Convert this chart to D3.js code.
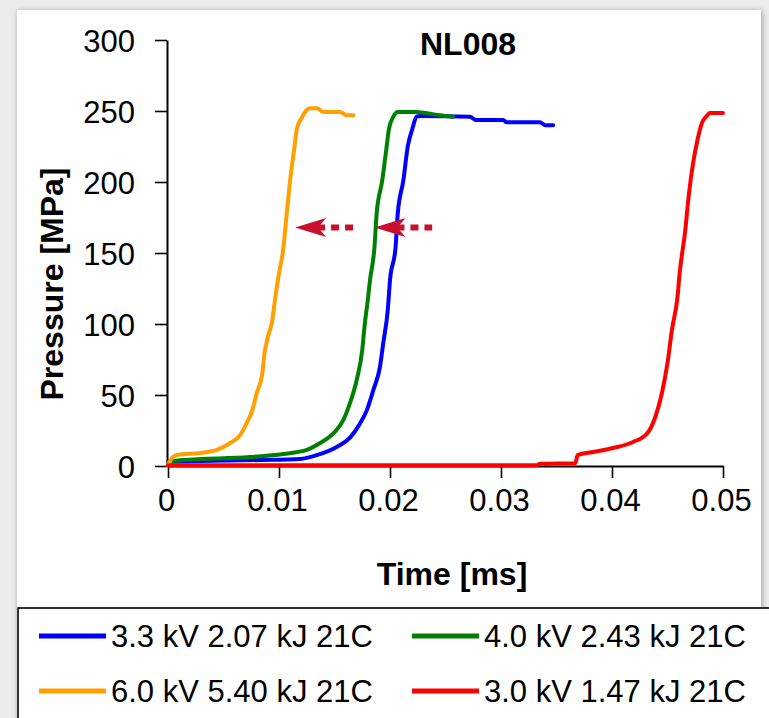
<!DOCTYPE html>
<html>
<head>
<meta charset="utf-8">
<script src="https://cdn.jsdelivr.net/npm/d3@7"></script>
<style>
  html, body { margin: 0; padding: 0; background: #ececec; }
  svg { display: block; }
  text { font-family: "Liberation Sans", Arial, sans-serif; fill: #000; }
</style>
</head>
<body>
<svg id="chart" width="769" height="718"></svg>
<script>
// ---------------- data ----------------
const chartTitle = "NL008";
const xAxisTitle = "Time [ms]";
const yAxisTitle = "Pressure [MPa]";
const xTicks = [0, 0.01, 0.02, 0.03, 0.04, 0.05];
const xTickLabels = ["0", "0.01", "0.02", "0.03", "0.04", "0.05"];
const yTicks = [0, 50, 100, 150, 200, 250, 300];
const yTickLabels = ["0", "50", "100", "150", "200", "250", "300"];

const seriesNames = ["3.3 kV 2.07 kJ 21C", "4.0 kV 2.43 kJ 21C", "6.0 kV 5.40 kJ 21C", "3.0 kV 1.47 kJ 21C"];
const seriesColors = ["#0000ff", "#008000", "#ffa000", "#ff0000"];

// time [ms]
const blueT = [0, 0.0029, 0.0083, 0.0119, 0.0134, 0.0152, 0.0164, 0.0173, 0.0179, 0.0185, 0.0191, 0.0194, 0.0198, 0.0200, 0.0205, 0.0207, 0.0212, 0.0216, 0.0220, 0.0224, 0.0227, 0.0272, 0.0277, 0.0302, 0.0305, 0.0335, 0.0340, 0.0347];
const blueP = [3, 3.5, 4.2, 5, 7.7, 13.4, 20, 30, 39, 53.5, 70, 87, 110, 131, 154, 178, 201, 225, 237, 246, 246.5, 246, 243.7, 243.7, 242, 242, 240, 240];

const greenT = [0, 0.00135, 0.0074, 0.0104, 0.0125, 0.0137, 0.0149, 0.0158, 0.0164, 0.0170, 0.0175, 0.0177, 0.0180, 0.0182, 0.0186, 0.0188, 0.0193, 0.0197, 0.0199, 0.0203, 0.0207, 0.0224, 0.0232, 0.0245, 0.0257];
const greenP = [3, 4.2, 6.3, 8.5, 11.3, 16.2, 23, 32.4, 44.4, 60.6, 81.7, 97.9, 117, 131, 154, 178, 201, 225, 237, 246, 249.3, 249.3, 248.6, 247, 246];

const orangeT = [0, 0.00036, 0.0008, 0.0029, 0.0044, 0.0056, 0.0065, 0.0071, 0.0076, 0.0080, 0.0085, 0.0087, 0.0090, 0.0094, 0.0096, 0.0099, 0.0104, 0.0107, 0.0110, 0.0114, 0.0116, 0.0121, 0.0125, 0.0128, 0.0134, 0.0140, 0.0155, 0.0161, 0.0167];
const orangeP = [0.7, 5.6, 7.7, 9.2, 11.3, 16.2, 21.8, 30.3, 39.4, 51.4, 65.5, 79.6, 90.8, 102.8, 114.8, 131, 154, 178, 201, 225, 237, 246, 250.7, 252, 252, 249.3, 249.3, 247, 247];

const redT = [0, 0.0332, 0.0335, 0.0367, 0.0369, 0.0383, 0.0401, 0.0419, 0.0432, 0.0439, 0.0445, 0.0450, 0.0454, 0.0459, 0.0461, 0.0466, 0.0469, 0.0473, 0.0477, 0.0481, 0.0486, 0.0488, 0.0500];
const redP = [0.5, 0.5, 1.5, 2, 7.7, 9.9, 12.7, 16.9, 23.2, 34.5, 51.4, 72.5, 95.8, 119, 136, 166, 189.4, 213, 229.6, 241.5, 247, 248.6, 248.6];

// arrows (data units): from tail time to head time at a pressure level
const arrowFromT = [0.0168, 0.0238];
const arrowToT = [0.01145, 0.0186];
const arrowP = [168, 168];
const arrowColor = "#c8102e";

// ---------------- drawing ----------------
const svg = d3.select("#chart");

const defs = svg.append("defs");
const f = defs.append("filter").attr("id", "sh").attr("x", "-5%").attr("y", "-5%").attr("width", "110%").attr("height", "110%");
f.append("feGaussianBlur").attr("in", "SourceAlpha").attr("stdDeviation", 3);
f.append("feOffset").attr("dx", 1).attr("dy", 1).attr("result", "b");
f.append("feComponentTransfer").append("feFuncA").attr("type", "linear").attr("slope", 0.35);
const fm = f.append("feMerge");
fm.append("feMergeNode");
fm.append("feMergeNode").attr("in", "SourceGraphic");

svg.append("rect").attr("x", 0).attr("y", 0).attr("width", 769).attr("height", 718).attr("fill", "#ececec");
svg.append("rect").attr("x", 17).attr("y", 10).attr("width", 744).attr("height", 730)
  .attr("fill", "#fff").attr("filter", "url(#sh)");

const x = d3.scaleLinear().domain([0, 0.05]).range([168, 723]);
const y = d3.scaleLinear().domain([0, 300]).range([466, 40]);

// axes
const yAxis = svg.append("g").attr("transform", "translate(167,0)")
  .call(d3.axisLeft(y).tickValues(yTicks).tickFormat((d, i) => yTickLabels[i]).tickSize(12).tickSizeOuter(0).tickPadding(20));
const xAxis = svg.append("g").attr("transform", "translate(0,466)")
  .call(d3.axisBottom(x).tickValues(xTicks).tickFormat((d, i) => xTickLabels[i]).tickSize(12).tickSizeOuter(0).tickPadding(33));

[yAxis, xAxis].forEach(g => {
  g.select(".domain").attr("stroke", "#000").attr("stroke-width", 2);
  g.selectAll(".tick line").attr("stroke", "#000").attr("stroke-width", 1.6);
  g.selectAll(".tick text").attr("font-size", 31).attr("font-family", "Liberation Sans, Arial, sans-serif").attr("fill", "#000");
});
xAxis.selectAll(".tick text").attr("dy", 0).attr("dx", -2);
yAxis.selectAll(".tick text").attr("dy", "0.36em");

// series
const seriesT = [blueT, greenT, orangeT, redT];
const seriesP = [blueP, greenP, orangeP, redP];
const line = d3.line().curve(d3.curveMonotoneX).x(d => x(d[0])).y(d => y(d[1]));
seriesT.forEach((ts, i) => {
  const pts = ts.map((t, j) => [t, seriesP[i][j]]);
  svg.append("path").datum(pts).attr("d", line)
    .attr("fill", "none").attr("stroke", seriesColors[i]).attr("stroke-width", 4)
    .attr("stroke-linejoin", "round").attr("stroke-linecap", "round");
});

// arrows
arrowFromT.forEach((ft, i) => {
  const tipX = x(arrowToT[i]), yy = y(arrowP[i]), tailX = x(ft);
  svg.append("line").attr("x1", tipX + 22).attr("x2", tailX).attr("y1", yy).attr("y2", yy)
    .attr("stroke", arrowColor).attr("stroke-width", 6).attr("stroke-dasharray", "8,6");
  svg.append("path")
    .attr("d", `M${tipX},${yy} L${tipX + 31},${yy - 9.5} L${tipX + 23},${yy} L${tipX + 31},${yy + 9.5} Z`)
    .attr("fill", arrowColor);
});

// titles
svg.append("text").attr("x", 468).attr("y", 55).attr("text-anchor", "middle")
  .attr("font-size", 32).attr("font-weight", "bold").text(chartTitle);
svg.append("text").attr("x", 452).attr("y", 585).attr("text-anchor", "middle")
  .attr("font-size", 32).attr("font-weight", "bold").text(xAxisTitle);
svg.append("text").attr("transform", "translate(63,284) rotate(-90)").attr("text-anchor", "middle")
  .attr("font-size", 32).attr("font-weight", "bold").text(yAxisTitle);

// legend
svg.append("rect").attr("x", 18).attr("y", 608).attr("width", 760).attr("height", 130)
  .attr("fill", "#fff").attr("stroke", "#000").attr("stroke-width", 1.6);
const legX = [39, 412], legY = [636, 691];
seriesNames.forEach((name, i) => {
  const cx = legX[i % 2], cy = legY[Math.floor(i / 2)];
  svg.append("line").attr("x1", cx).attr("x2", cx + 67).attr("y1", cy).attr("y2", cy)
    .attr("stroke", seriesColors[i]).attr("stroke-width", 5);
  svg.append("text").attr("x", cx + 72).attr("y", cy + 11).attr("font-size", 31).text(name);
});
</script>
</body>
</html>
